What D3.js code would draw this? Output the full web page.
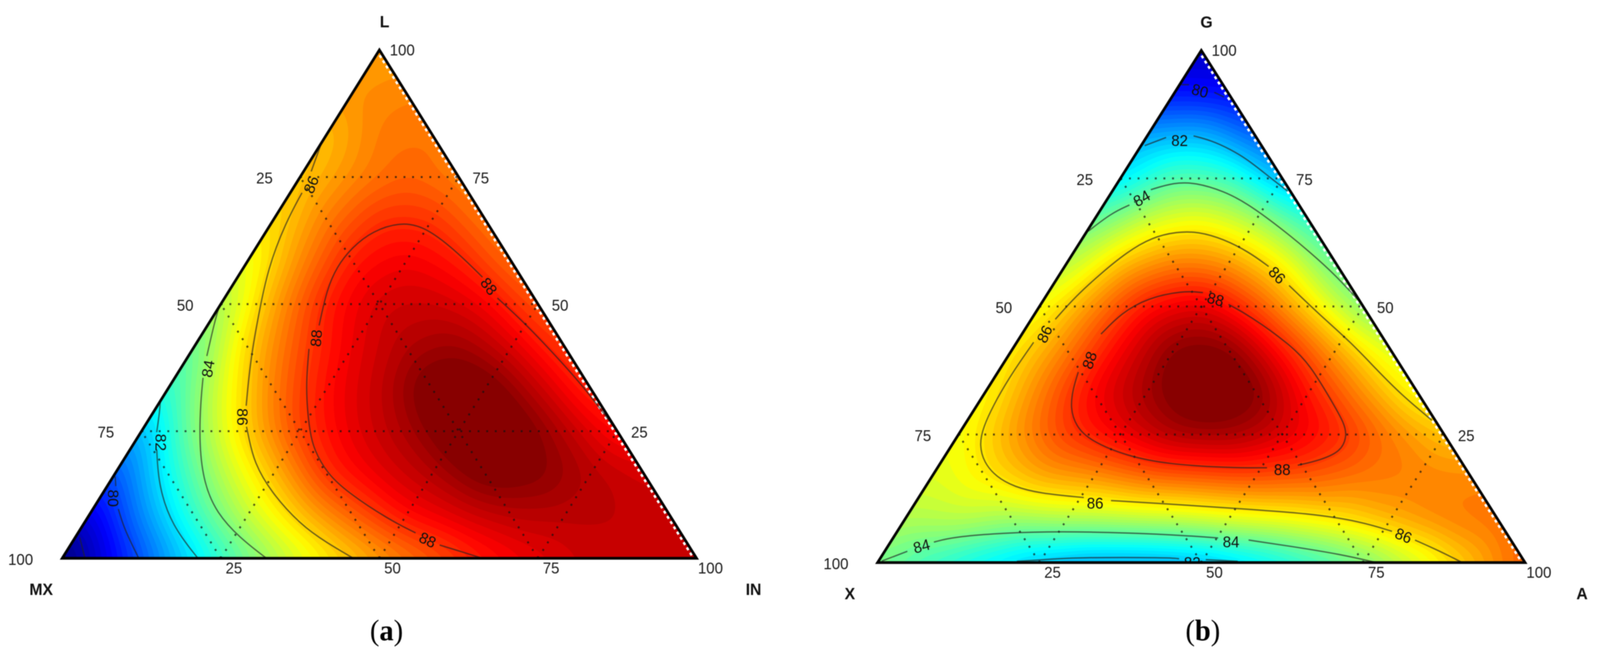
<!DOCTYPE html>
<html>
<head>
<meta charset="utf-8">
<title>Ternary contour plots</title>
<script src="https://cdn.jsdelivr.net/npm/d3@7"></script>
<style>
    html, body { margin: 0; background: #fff; }
    svg { display: block; width: 100vw; height: 100vh; filter: blur(1px); }
    text { font-family: "Liberation Sans", Arial, sans-serif; fill: #1c1c1c; }
    .corner { font-weight: bold; fill: #111; }
    .caption { font-family: "Liberation Serif", serif; fill: #000; }
    .level { fill: #111; }
</style>
</head>
<body>
<svg></svg>
<script>
// response on a 1/12 ternary lattice, bottom row first.
// row i is top% = i/12, column j is right% = j/12

const fieldA = [
    [77.3, 79.1, 81, 82.7, 84.2, 85.4, 86.4, 87.2, 88.05, 88.6, 89, 89.1, 89],
    [78.6, 80.8, 82.85, 84.6, 86, 87.25, 88.3, 88.8, 89.2, 89.2, 89.15, 89],
    [80, 82.3, 84.4, 86.1, 87.9, 88.7, 89.3, 90.1, 89.9, 89.3, 88.9],
    [81.2, 83.8, 85.95, 87.7, 88.7, 89.4, 90.3, 90.3, 89.3, 88.2],
    [82.6, 84.9, 86.9, 88.3, 89.1, 90.2, 90.2, 89.1, 87.8],
    [83.3, 85.85, 87.5, 88.6, 89.3, 89.6, 88.8, 87.6],
    [84.1, 86.4, 88.1, 88.9, 89, 88.5, 87.3],
    [84.9, 86.7, 88.15, 88.55, 88.1, 87],
    [85.6, 86.9, 87.85, 87.8, 86.9],
    [85.9, 86.7, 87.2, 86.8],
    [86, 86.9, 87],
    [86.6, 86.8],
    [86.4]
]

const fieldB = [
    [84, 83.2, 82.5, 81.8, 81.4, 81.4, 81.6, 82.25, 83, 83.8, 84.95, 86.2, 87.4],
    [84.75, 84.9, 84.55, 84.75, 84.85, 84.97, 85.26, 85.47, 85.87, 86.5, 87, 87.2],
    [85.2, 85.8, 86.6, 86.8, 87.3, 87.45, 87.6, 87.45, 87.1, 87, 86.9],
    [85.4, 86.66, 87.85, 88.6, 89.4, 89.5, 88.9, 88.15, 87.1, 86.2],
    [85.5, 87, 88.5, 89.5, 90.3, 89.9, 88.2, 86.8, 85.4],
    [85.7, 87, 88.5, 89.8, 89.8, 88.2, 86.6, 85.1],
    [85.4, 86.9, 88.3, 88.8, 87.6, 86, 84.1],
    [84.7, 86.3, 87.05, 86.8, 85.7, 83.7],
    [83.8, 85.1, 85.55, 84.75, 83.2],
    [82.4, 83.7, 83.45, 81.8],
    [81.8, 82, 80.9],
    [80, 79.9],
    [79.2]
]

// contour lines as [top%, right%], one array per unbroken stretch (labels sit in the gaps)

const contoursA = [
    [[0, 3.6], [4.1, 0.7]],
    [[0, 12.07], [5.7, 6.95], [9.7, 4]],
    [[14.2, 1.35], [16.1, 0.3]],
    [[0, 21.4], [6.4, 14.1], [14.2, 8.1], [21.4, 4.2]],
    [[24.8, 2.5], [29.2, 0.8], [30.9, 0]],
    [[0, 32.2], [4, 26], [8.9, 19.9], [14.7, 15], [22.2, 10.5], [30.5, 6.55], [35.5, 4.45]],
    [[39.8, 2.9], [46.9, 0.65], [49.5, 0]],
    [[0, 45.9], [3.1, 40.1], [6.5, 34.4], [13.1, 26.3], [18.9, 20.8], [23.8, 17.5], [25.9, 16.1]],
    [[30, 14], [38.7, 10.3], [46.9, 7.35], [57, 3.9], [66.1, 2.2], [71.9, 1.85]],
    [[76.1, 1.2], [81.8, 0]],
    [[0, 66.2], [1.3, 62.3], [2.6, 58.2]],
    [[5, 53.2], [7.7, 47.5], [13.1, 38.3], [16.8, 33.3], [21.4, 29], [24.7, 26.7], [30.5, 23.3], [35.4, 20.8], [41.2, 18.3]],
    [[45.8, 17.6], [52.8, 15.3], [57.4, 14.6], [61.1, 15.1], [64.4, 16.7], [66.3, 20.6], [64.8, 25.4], [59.9, 32.6], [55.3, 38.6]],
    [[51.2, 43], [46.2, 49.9], [38.7, 59.3], [32.9, 66.3], [25.5, 74.4]]
]

const contoursB = [
    [[50.4, 29], [48.3, 33.2], [42.6, 42.4], [38.5, 47.6], [31.9, 54], [27, 58.7], [24.5, 60.2], [21.7, 60.7], [20, 58.4], [19, 55.4]],
    [[18.5, 50.9], [18.5, 45], [19.2, 35.2], [20.8, 28.1], [23.7, 21.1], [26.6, 17.3], [30.3, 14.6], [34, 13.2], [37.2, 12.4]],
    [[44.6, 12.2], [48.7, 13.3], [51.6, 15.8], [53.1, 20.6], [52.7, 23.9]],
    [[0, 90.3], [2.2, 85.8], [4.4, 80.8]],
    [[6.1, 76.4], [8, 70.7], [9.6, 62], [10.6, 49.7], [11.6, 37.4], [12.1, 30]],
    [[12.7, 25.5], [13.5, 18.3], [14.8, 13.7], [16.7, 10], [19.6, 6.6], [22.9, 4.3], [26.2, 3.1], [31.9, 2.4], [37.7, 2.3], [43, 2.6]],
    [[47.5, 3.7], [52, 4.6], [56.5, 6.3], [60.6, 8.2], [63.5, 10.6], [64.6, 14], [64.6, 17.2], [63.2, 21.8], [60.6, 27.1], [57.8, 31.5]],
    [[54.1, 36.5], [48.3, 44.2], [43, 51.6], [37.7, 58.2], [32.7, 64.6], [27.8, 71.7]],
    [[64.7, 0.2], [68.2, 2], [69.8, 4]],
    [[72.8, 5.8], [74.2, 8.7], [74.2, 12], [72.5, 17.25], [70.2, 21.9], [65.5, 29.35], [60.6, 36.5], [56.1, 42.7], [50.6, 49.4]],
    [[0.3, 0.5], [2.2, 3.5]],
    [[4, 6.7], [5, 9.2], [5.8, 16.6], [6.1, 25.15], [5.8, 36.3], [5.25, 45.3], [4.8, 50.2]],
    [[4.4, 55.1], [3.2, 62.1], [1.6, 70.8], [0, 77]],
    [[0.25, 21.4], [0.74, 27.6], [1, 30.2], [1, 44.7], [0.74, 46.2]],
    [[0.57, 50.4], [0.25, 55.5]],
    [[93.3, 0.28], [93.3, 1.45]],
    [[91.8, 6.1], [90.9, 8.05]],
    [[81.4, 0.56], [83, 3.06]],
    [[83.3, 7.15], [82.4, 10.36], [80.7, 14.1], [78.8, 17.6], [76.5, 21.05], [74, 24.8], [72.5, 27.1]]
]

// label text, top%, right%, rotation

const labelsA = [
    ["86", 73.5, 2.5, -68], ["88", 53.5, 40.5, 52], ["88", 43.3, 18.4, -85], ["84", 37.3, 4.35, -80],
    ["86", 27.8, 14.5, 90], ["82", 22.8, 4.1, 90], ["80", 11.8, 2.1, 90], ["88", 3.6, 55.8, 25]
]

const labelsB = [
    ["80", 92.1, 3.75, 15], ["82", 82.4, 5.45, 0], ["84", 71.1, 5.25, -30], ["86", 56.1, 33.65, 45],
    ["88", 51.4, 26.5, 15], ["86", 44.6, 3.5, -65], ["88", 39.5, 13, -70], ["88", 18.1, 53.45, 0],
    ["86", 11.6, 27.8, 0], ["86", 5.25, 78.6, 22], ["84", 3.2, 5.2, -15], ["84", 4, 52.6, 0], ["82", 0, 48.6, 0]
]

const gridTicks = [25, 50, 75]
const jetStops = [0, 0.125, 0.375, 0.625, 0.875, 1]
const jetColors = ["#000080", "#0000ff", "#00ffff", "#ffff00", "#ff0000", "#800000"]

// the window can come out narrower than asked, so the drawing is fitted to it
const svg = d3.select("svg")
    .attr("viewBox", "0 0 4270 1688")
    .attr("preserveAspectRatio", "none")

const defs = svg.append("defs")
const jet = d3.scaleLinear().domain(jetStops).range(jetColors).clamp(true)

// value at a lattice position, flat inside each small triangle
const fieldAt = function(field, top, right) {
    const t = Math.max(0, Math.min(100, top))
    const r = Math.max(0, Math.min(100 - t, right))
    const row = t / 100 * 12
    const col = r / 100 * 12
    const i = Math.min(11, Math.floor(row))
    const j = Math.min(11 - i, Math.floor(col))
    const fr = row - i
    const fc = col - j
    if (fr + fc <= 1 || j === 11 - i) {
        return field[i][j] * (1 - fr - fc) + field[i][j + 1] * fc + field[i + 1][j] * fr
    }
    return field[i + 1][j + 1] * (fr + fc - 1) + field[i][j + 1] * (1 - fr) + field[i + 1][j] * (1 - fc)
}

const drawPanel = function(p) {
    const scaleX = d3.scaleLinear().domain([0, 100]).range([p.left, p.right])
    const scaleY = d3.scaleLinear().domain([0, 100]).range([p.bottom, p.top])
    const px = (top, right) => scaleX(right + top / 2)
    const py = (top) => scaleY(top)

    const g = svg.append("g").attr("class", "panel-" + p.id)
    const corners = [[0, 0], [0, 100], [100, 0]]
    const outline = corners.map(c => [px(c[0], c[1]), py(c[0])])

    defs.append("clipPath")
        .attr("id", "clip-" + p.id)
        .append("polygon")
        .attr("points", outline.join(" "))

    const inner = g.append("g").attr("clip-path", "url(#clip-" + p.id + ")")

    // raster of the lattice, then colour bands from d3.contours
    const cell = 6
    const cols = Math.ceil((p.right - p.left) / cell) + 3
    const rows = Math.ceil((p.bottom - p.top) / cell) + 3
    const rasterX = d3.scaleLinear().domain([0, cols]).range([p.left - cell, p.left - cell + cols * cell])
    const rasterY = d3.scaleLinear().domain([0, rows]).range([p.top - cell, p.top - cell + rows * cell])
    const values = new Float64Array(cols * rows)
    for (let y = 0; y < rows; y++) {
        for (let x = 0; x < cols; x++) {
            const top = scaleY.invert(rasterY(y + 0.5))
            const right = scaleX.invert(rasterX(x + 0.5)) - top / 2
            values[y * cols + x] = fieldAt(p.field, top, right)
        }
    }
    d3.blur2({data: values, width: cols, height: rows}, 6)

    const bandScale = d3.scaleLinear().domain([0, 1]).range(p.domain)
    const bands = d3.range(64)
    const bandPath = d3.geoPath(d3.geoTransform({
        point: function(x, y) { this.stream.point(rasterX(x), rasterY(y)) }
    }))

    inner.append("rect")
        .attr("x", p.left).attr("y", p.top)
        .attr("width", p.right - p.left).attr("height", p.bottom - p.top)
        .attr("fill", jet(0.5 / 64))

    inner.selectAll("path.band")
        .data(d3.contours().size([cols, rows]).thresholds(bands.map(b => bandScale(b / 64)))(values))
        .enter()
        .append("path")
        .attr("class", "band")
        .attr("d", bandPath)
        .attr("fill", (d, i) => jet((bands[i] + 0.5) / 64))

    // white saw teeth left over along the right side
    inner.append("line")
        .attr("x1", outline[2][0] - 8).attr("y1", outline[2][1])
        .attr("x2", outline[1][0] - 8).attr("y2", outline[1][1])
        .attr("stroke", "#fff")
        .attr("stroke-width", 6.5)
        .attr("stroke-dasharray", "8 8")

    // dotted grid
    const gridLines = []
    gridTicks.forEach(t => {
        gridLines.push([[t, 0], [t, 100 - t]])
        gridLines.push([[0, t], [100 - t, t]])
        gridLines.push([[0, 100 - t], [100 - t, 0]])
    })
    inner.selectAll("line.grid")
        .data(gridLines)
        .enter()
        .append("line")
        .attr("class", "grid")
        .attr("x1", d => px(d[0][0], d[0][1]))
        .attr("y1", d => py(d[0][0]))
        .attr("x2", d => px(d[1][0], d[1][1]))
        .attr("y2", d => py(d[1][0]))
        .attr("stroke", "#111")
        .attr("stroke-width", 5)
        .attr("stroke-opacity", 0.7)
        .attr("stroke-dasharray", "5 18")

    // contour lines
    const line = d3.line()
        .x(d => px(d[0], d[1]))
        .y(d => py(d[0]))
        .curve(d3.curveBasis)

    inner.selectAll("path.contour")
        .data(p.contours)
        .enter()
        .append("path")
        .attr("class", "contour")
        .attr("d", line)
        .attr("fill", "none")
        .attr("stroke", "#222")
        .attr("stroke-width", 3.5)
        .attr("stroke-opacity", 0.65)

    inner.selectAll("text.level")
        .data(p.labels)
        .enter()
        .append("text")
        .attr("class", "level")
        .attr("transform", d => `translate(${px(d[1], d[2])}, ${py(d[1])}) rotate(${d[3]})`)
        .attr("text-anchor", "middle")
        .attr("dominant-baseline", "central")
        .attr("font-size", 40)
        .text(d => d[0])

    // black frame
    g.append("polygon")
        .attr("points", outline.join(" "))
        .attr("fill", "none")
        .attr("stroke", "#000")
        .attr("stroke-width", 7)
        .attr("stroke-linejoin", "miter")

    // tick labels around the three sides
    const tick = function(text, x, y) {
        g.append("text")
            .attr("x", x).attr("y", y)
            .attr("text-anchor", "middle")
            .attr("dominant-baseline", "central")
            .attr("font-size", 40)
            .text(text)
    }
    gridTicks.forEach(t => {
        tick(t, px(t, 100 - t) + 59, py(t) + 3)     // right side, top component
        tick(100 - t, px(t, 0) - 95, py(t) + 3)     // left side, left component
        tick(t, px(0, t) + 35, py(0) + 25)          // bottom, right component
    })
    tick(100, px(100, 0) + 61, py(100))
    tick(100, px(0, 0) - 111, py(0) + 3)
    tick(100, px(0, 100) + 37, py(0) + 25)

    const corner = function(text, x, y) {
        g.append("text")
            .attr("class", "corner")
            .attr("x", x).attr("y", y)
            .attr("text-anchor", "middle")
            .attr("dominant-baseline", "central")
            .attr("font-size", 42)
            .text(text)
    }
    corner(p.names[0], px(100, 0) + 14, py(100) - 72)
    corner(p.names[1], px(0, 0) - p.nudge, py(0) + 80)
    corner(p.names[2], px(0, 100) + 152, py(0) + 80)

    const caption = g.append("text")
        .attr("class", "caption")
        .attr("x", px(100, 0) + p.captionShift)
        .attr("y", 1615)
        .attr("text-anchor", "middle")
        .attr("dominant-baseline", "central")
        .attr("font-size", 76)
    caption.append("tspan").text("(")
    caption.append("tspan").attr("font-weight", "bold").text(p.id)
    caption.append("tspan").text(")")
}

drawPanel({
    id: "a", left: 166, right: 1859, top: 128, bottom: 1430,
    field: fieldA, contours: contoursA, labels: labelsA,
    domain: [77.6, 89.9], names: ["L", "MX", "IN"], nudge: 56, captionShift: 19
})

drawPanel({
    id: "b", left: 2342, right: 4070, top: 129, bottom: 1441,
    field: fieldB, contours: contoursB, labels: labelsB,
    domain: [78.5, 89.8], names: ["G", "X", "A"], nudge: 74, captionShift: 4
})
</script>
</body>
</html>
